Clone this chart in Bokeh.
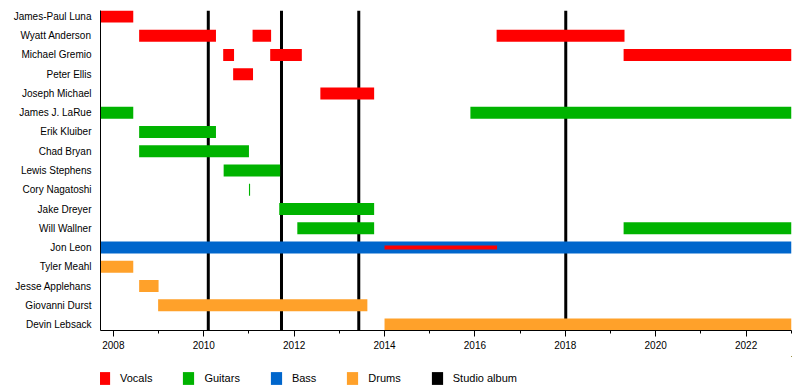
from bokeh.plotting import figure
from bokeh.layouts import column
from bokeh.models import (Range1d, FixedTicker, SingleIntervalTicker, Legend,
                          LegendItem, ColumnDataSource)
from bokeh.embed import file_html
from bokeh.resources import INLINE

# ---------------- data ----------------
START = 2007.715
END = 2023.005

names = ["James-Paul Luna", "Wyatt Anderson", "Michael Gremio", "Peter Ellis",
         "Joseph Michael", "James J. LaRue", "Erik Kluiber", "Chad Bryan",
         "Lewis Stephens", "Cory Nagatoshi", "Jake Dreyer", "Will Wallner",
         "Jon Leon", "Tyler Meahl", "Jesse Applehans", "Giovanni Durst",
         "Devin Lebsack"]

vocals_member = ["James-Paul Luna", "Wyatt Anderson", "Wyatt Anderson", "Wyatt Anderson",
                 "Michael Gremio", "Michael Gremio", "Michael Gremio",
                 "Peter Ellis", "Joseph Michael"]
vocals_start = [START, 2008.57, 2011.08, 2016.48, 2010.43, 2011.47, 2019.29, 2010.65, 2012.58]
vocals_end = [2008.44, 2010.27, 2011.49, 2019.31, 2010.67, 2012.17, END, 2011.09, 2013.77]

guitars_member = ["James J. LaRue", "James J. LaRue", "Erik Kluiber", "Chad Bryan",
                  "Lewis Stephens", "Cory Nagatoshi", "Jake Dreyer",
                  "Will Wallner", "Will Wallner"]
guitars_start = [START, 2015.90, 2008.57, 2008.57, 2010.44, 2011.00, 2011.67, 2012.07, 2019.29]
guitars_end = [2008.44, END, 2010.27, 2011.00, 2011.69, 2011.025, 2013.77, 2013.77, END]

bass_member = ["Jon Leon"]
bass_start = [START]
bass_end = [END]

drums_member = ["Tyler Meahl", "Jesse Applehans", "Giovanni Durst", "Devin Lebsack"]
drums_start = [START, 2008.57, 2008.99, 2014.00]
drums_end = [2008.44, 2009.00, 2013.62, END]

backing_vocals_member = ["Jon Leon"]
backing_vocals_start = [2014.00]
backing_vocals_end = [2016.49]

albums = [2010.10, 2011.72, 2013.43, 2018.01]

legend_labels = ["Vocals", "Guitars", "Bass", "Drums", "Studio album"]

# ---------------- style ----------------
C_VOC = "#ff0000"
C_GTR = "#00b300"
C_BASS = "#0066cc"
C_DRUM = "#ffa12a"
C_ALB = "#000000"
FONT = "Liberation Sans"
FS = "10px"
BAR_H = 0.623

row = {n: i for i, n in enumerate(names)}


def src_for(members, starts, ends):
    return ColumnDataSource(dict(y=[row[m] for m in members], left=starts, right=ends))


src_voc = src_for(vocals_member, vocals_start, vocals_end)
src_gtr = src_for(guitars_member, guitars_start, guitars_end)
src_bass = src_for(bass_member, bass_start, bass_end)
src_drum = src_for(drums_member, drums_start, drums_end)
src_bvoc = src_for(backing_vocals_member, backing_vocals_start, backing_vocals_end)
src_alb = ColumnDataSource(dict(x=albums, y=[(len(names) - 1) / 2] * len(albums)))

p = figure(width=800, height=356, output_backend="svg", toolbar_location=None,
           x_range=Range1d(START, END),
           y_range=Range1d(len(names) - 1 + BAR_H / 2, -BAR_H / 2),
           min_border_left=100, min_border_right=9, min_border_top=10,
           min_border_bottom=26)
p.xgrid.visible = False
p.ygrid.visible = False
p.outline_line_color = None
p.background_fill_color = "white"
p.border_fill_color = "white"


def draw(fig):
    rs = []
    rs.append(fig.rect(x="x", y="y", width=3, width_units="screen",
                       height=len(names) - 1 + BAR_H, source=src_alb,
                       fill_color=C_ALB, line_color=None))
    for s, c in [(src_voc, C_VOC), (src_gtr, C_GTR), (src_bass, C_BASS), (src_drum, C_DRUM)]:
        rs.append(fig.hbar(y="y", left="left", right="right", height=BAR_H, source=s,
                           fill_color=c, line_color=None))
    return rs


draw(p)
p.hbar(y="y", left="left", right="right", height=0.21, source=src_bvoc,
       fill_color=C_VOC, line_color=None)

# axes
xa = p.xaxis[0]
xa.ticker = SingleIntervalTicker(interval=2, num_minor_ticks=2)
xa.major_tick_out = 6
xa.major_tick_in = 0
xa.minor_tick_out = 3
xa.minor_tick_in = 0
xa.axis_line_color = "black"
xa.major_tick_line_color = "black"
xa.minor_tick_line_color = "black"
xa.major_label_standoff = 4
xa.major_label_text_font = FONT
xa.major_label_text_font_size = FS
xa.major_label_text_color = "black"

ya = p.yaxis[0]
ya.ticker = FixedTicker(ticks=list(range(len(names))), minor_ticks=[])
ya.major_label_overrides = {i: n for i, n in enumerate(names)}
ya.major_tick_out = 0
ya.major_tick_in = 0
ya.minor_tick_out = 0
ya.minor_tick_in = 0
ya.axis_line_color = "black"
ya.major_label_standoff = 9
ya.major_label_text_font = FONT
ya.major_label_text_font_size = FS
ya.major_label_text_color = "black"

# ---------------- legend strip (same data, ranges that show no marks) ----------------
lg = figure(width=800, height=34, output_backend="svg", toolbar_location=None,
            x_range=Range1d(0, 1), y_range=Range1d(-3, -2),
            min_border_left=0, min_border_right=0, min_border_top=0,
            min_border_bottom=0)
lg.axis.visible = False
lg.xgrid.visible = False
lg.ygrid.visible = False
lg.outline_line_color = None

r_alb, r_voc, r_gtr, r_bass, r_drum = draw(lg)
items = [LegendItem(label=lab, renderers=[r])
         for lab, r in zip(legend_labels, [r_voc, r_gtr, r_bass, r_drum, r_alb])]

legend = Legend(items=items, orientation="horizontal", location=(-3, 4),
                glyph_width=14, glyph_height=16, label_height=16,
                label_standoff=9, spacing=29, padding=0, margin=0,
                border_line_color=None, background_fill_alpha=0,
                label_text_font=FONT, label_text_font_size="11px",
                label_text_color="black")
lg.add_layout(legend)

open("out.html", "w").write(file_html(column(p, lg, spacing=0), INLINE))
